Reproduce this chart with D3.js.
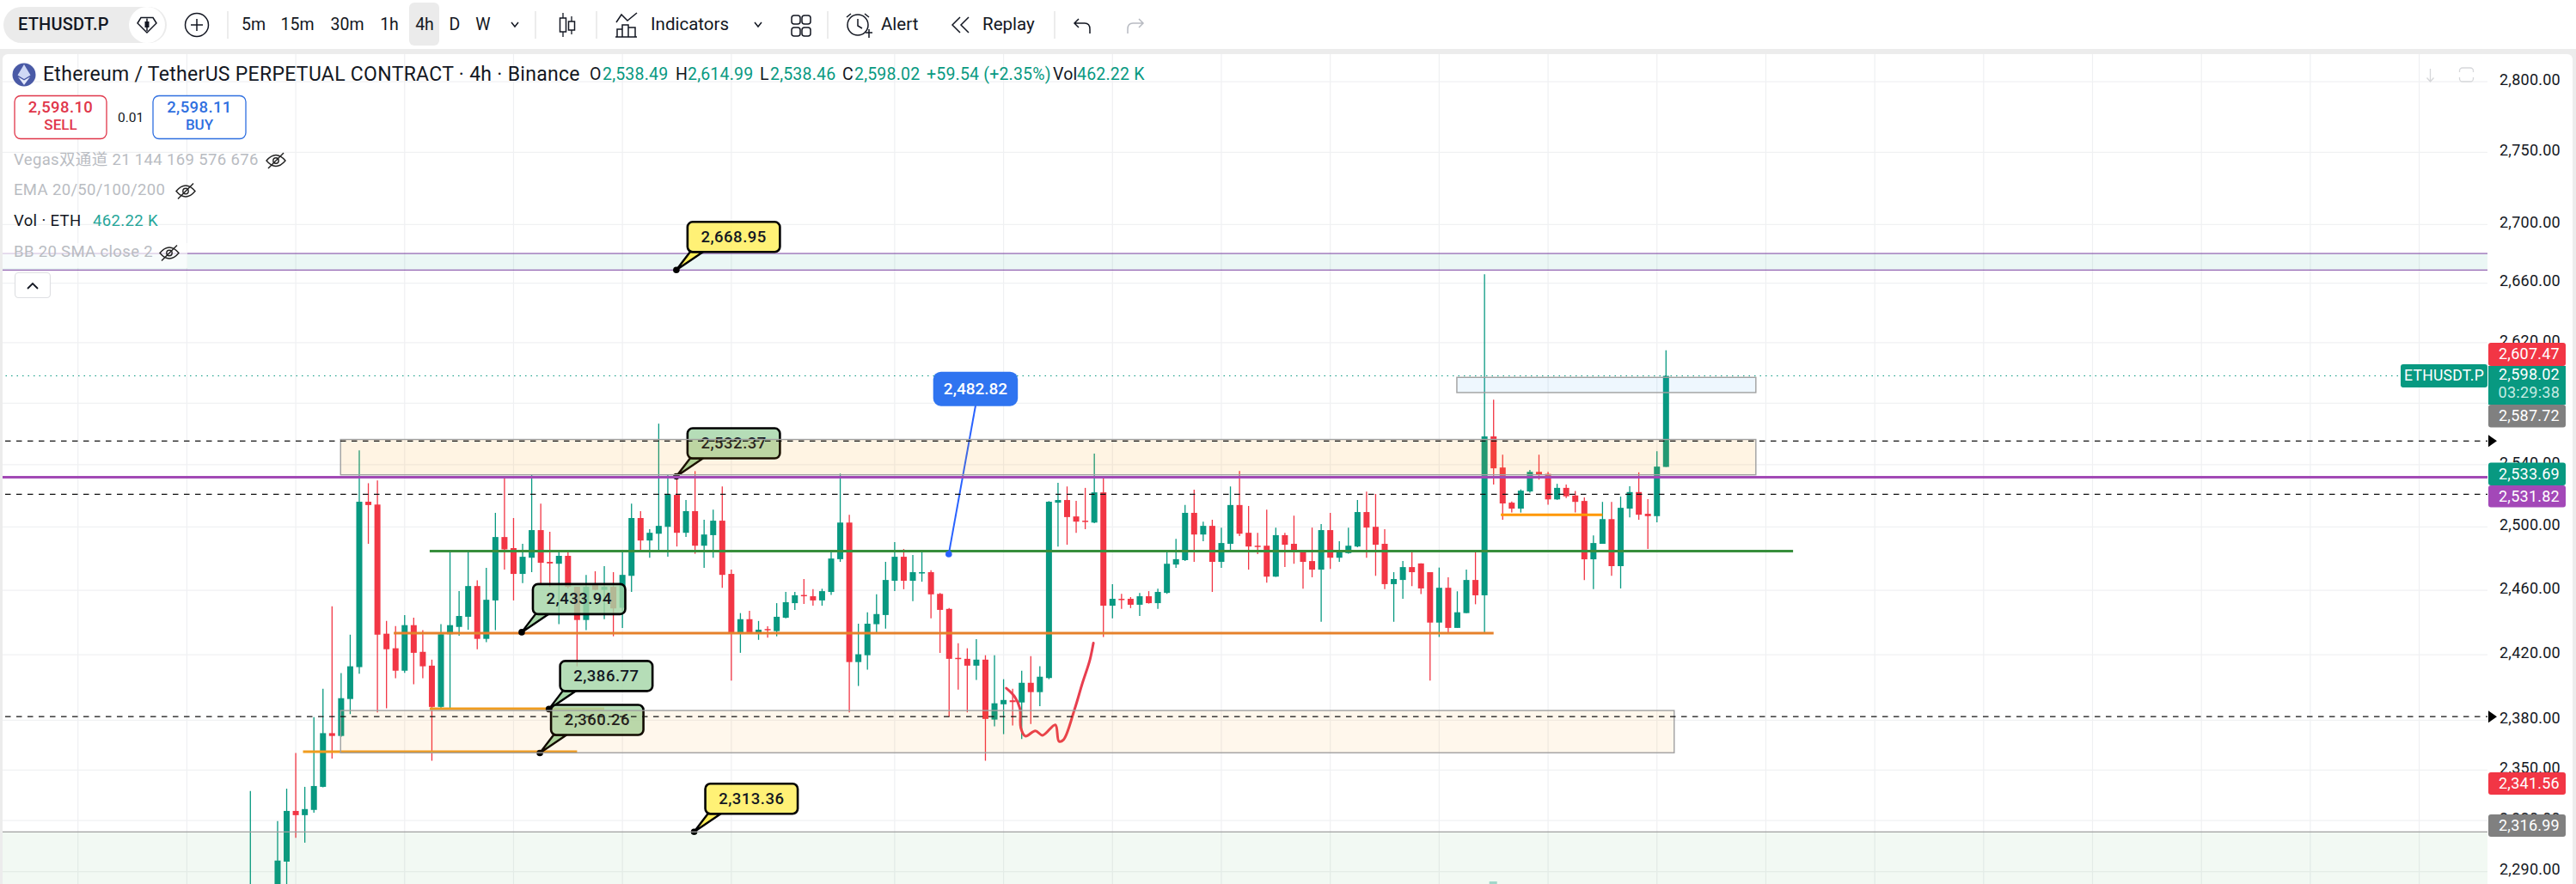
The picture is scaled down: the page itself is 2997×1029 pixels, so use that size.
<!DOCTYPE html>
<html><head><meta charset="utf-8">
<script src="https://cdn.jsdelivr.net/npm/d3@7"></script>
<style>
html,body{margin:0;padding:0;background:#ececec;overflow:hidden}
svg{display:block}
text{font-family:Roboto,"Noto Sans CJK SC",sans-serif}
</style></head><body><div id="c"></div>
<script>
// ---------- data (price values) ----------
const opens=[2268,2276,2270,2278,2295.9,2325.7,2323.2,2326.3,2340,2372.2,2370.5,2392.9,2412.4,2516.1,2514.3,2433,2424,2410.2,2438.3,2421.8,2413.3,2388.1,2432.7,2437.2,2443.5,2462.7,2429.8,2453.7,2493.6,2486.6,2470.3,2480.5,2498,2477.9,2476.7,2481.7,2462.2,2441.5,2464.1,2460.3,2462.2,2449.1,2469.1,2505.7,2491.4,2495.7,2500.1,2520.5,2496.3,2510.1,2488.1,2494.8,2504,2470.3,2433.7,2442,2433.7,2435.9,2434.6,2442.9,2452,2457.1,2456.3,2453.7,2459,2479.6,2502.8,2415.5,2419.7,2438.9,2444.6,2466,2481.1,2466,2470.9,2471.4,2457.8,2448.4,2418.1,2417.5,2413.3,2417,2380.4,2389.7,2392.1,2390.8,2402.8,2397.1,2405.7,2515.5,2517.2,2506.7,2504,2502.8,2522.1,2450.4,2454.7,2454.7,2451,2456.3,2452,2458.4,2476.2,2479,2509,2495.2,2500.7,2477.9,2489.3,2514,2496.3,2488.1,2488.1,2468.6,2494.8,2489.3,2484.3,2478.4,2473,2498,2480.5,2483.4,2487.6,2509.5,2500.1,2489.3,2463.9,2466.5,2474.6,2476.9,2471.4,2439.9,2461.6,2436.6,2445.8,2466.5,2456.9,2558.3,2538.1,2515.5,2511.7,2522.7,2535.3,2534,2517.6,2525,2520.1,2516.6,2479.5,2489.3,2505,2475.2,2511.7,2522.3,2508.4,2506.9,2538.49];
const highs=[2337.5,2280,2280,2319.7,2338.9,2360.3,2340,2381.9,2399.1,2450,2408.7,2432.4,2549.2,2528,2529.8,2440.9,2437.8,2444.6,2442.9,2435.2,2417,2438.9,2484,2459.5,2484,2466.3,2474.1,2509,2531.3,2505.7,2489.3,2533.3,2514.9,2496.9,2484,2484,2462.2,2469.7,2472,2475.2,2471.4,2484,2514.9,2510.1,2498.6,2566.6,2533.3,2531.3,2517.2,2535.8,2504.6,2511.1,2525.9,2473,2445.8,2447.2,2440.9,2437.6,2452,2459,2459,2467.1,2460.7,2461,2484,2534.2,2507.8,2439.2,2446.3,2457.5,2477.9,2490.4,2486,2482.2,2484,2472.6,2458.4,2448.9,2427.1,2424,2429.6,2419.7,2419.7,2405,2399.1,2410.2,2419.2,2412.9,2516.5,2528.2,2525.9,2516.7,2525,2547.1,2531.3,2463.9,2457.8,2455.8,2458.4,2459.5,2461,2484,2492.5,2514,2523.8,2503.4,2504.6,2499.6,2525.9,2535.8,2513.4,2496.3,2511.1,2499.6,2496.3,2507.2,2484.6,2499.6,2501.9,2509,2491,2499.6,2517.2,2522.6,2521.1,2498.6,2471.4,2478.4,2484,2476.9,2465.7,2474.3,2468.2,2459.4,2473,2484,2666.1,2582.3,2546.4,2516.3,2524,2536.6,2546.4,2535.3,2527.6,2527.1,2523,2518.9,2494.6,2516,2516,2519.4,2526,2535,2517.8,2548.7,2614.99];
const lows=[2262,2270,2265,2272,2278,2309.8,2307,2324.7,2339.7,2356.9,2370,2383.7,2408.3,2489.3,2384.8,2387.2,2405.6,2408.9,2401.9,2405.6,2355.6,2387.2,2387.2,2431.8,2435.5,2423.4,2427.7,2435.2,2473,2453.7,2464.5,2471.4,2464.1,2462.2,2438.9,2461.2,2412.9,2435.2,2460,2442,2431.4,2436.6,2459,2484.9,2480.5,2484.9,2481.1,2487.6,2493.6,2483,2474.1,2480.5,2461.6,2404.1,2421.2,2433.3,2429.2,2430.5,2431.4,2442.6,2447.8,2451.5,2450.4,2450.4,2457.1,2477.9,2384.8,2400.8,2410.8,2433.3,2436.1,2459.5,2460.7,2453.2,2465.4,2442.6,2421.2,2382.2,2398.6,2384.8,2404.5,2355.6,2376.3,2371.6,2376.8,2368.7,2377.7,2388.6,2405,2487.6,2488.7,2496.3,2498.6,2502.4,2430.9,2442.6,2448.4,2448.9,2444,2451.7,2448.4,2457.8,2474.1,2478.4,2477.9,2491,2459,2474.1,2485.4,2494.2,2473,2482.8,2464.8,2468.4,2474.6,2476.7,2461,2468.2,2440.4,2473.5,2477.9,2483,2487.2,2480.5,2469.1,2460.7,2440.4,2454.7,2462.7,2457.7,2404.1,2431,2433.9,2436.6,2445.8,2451.3,2433.3,2527.1,2504.6,2509.2,2509.2,2521.9,2530.3,2514.2,2517.3,2518.4,2509.2,2466.4,2460.7,2489.3,2469.1,2461.2,2506.1,2504.6,2486,2503,2538.46];
const closes=[2276,2279,2278,2296.5,2325.7,2323.2,2326.8,2340.5,2372.2,2370.5,2393.4,2412.9,2516.1,2514,2432.4,2423.4,2410.2,2438.3,2421.2,2412.9,2388.1,2432.7,2438.3,2444,2462.7,2429.8,2454.1,2493.6,2485.8,2470.3,2481.1,2498,2477.3,2476.9,2481.7,2462.2,2441.5,2462.2,2460.3,2462.2,2448.7,2469.7,2505.7,2491.4,2496.3,2500.7,2520.9,2496.3,2510.1,2488.1,2495.2,2504,2469.7,2433.3,2442,2433.7,2435.5,2435.3,2443.5,2452.6,2456.9,2456.5,2453.7,2459.5,2480,2502.8,2415.5,2420.3,2439.2,2445.2,2466.5,2481.1,2466,2471.4,2471.4,2457.5,2447.8,2417.5,2417.5,2413.3,2417,2380.8,2390.3,2392.3,2391,2402.8,2397.1,2406.5,2516.1,2517.2,2506.3,2503.4,2503.4,2522.1,2450.4,2454.7,2454.1,2451,2456.3,2452,2459,2476.7,2479.6,2509,2495.2,2500.7,2477.9,2489.8,2514,2495.7,2487.6,2487.6,2468.6,2494.8,2488.7,2484.3,2477.9,2473,2498,2480.5,2484.9,2488.1,2509.5,2499.6,2488.7,2463.9,2467.1,2474.6,2471.4,2461.2,2439.9,2461.6,2436.6,2446.3,2466.5,2456.9,2558.3,2537.6,2515,2511.7,2523.2,2535.3,2533.4,2517.6,2525,2519.6,2516,2479.5,2489.8,2505,2475.2,2512.2,2522.3,2507.8,2506.9,2538.7,2598.02];

const gridCandleIndex=[-19,-7,5,17,29,41,53,71,83,95,107,119,131,143,155,167,179,191,203,215,227,239];
const axisPrices=[2800,2750,2700,2660,2620,2580,2540,2500,2460,2420,2380,2350,2320,2290];
const dashedPrices=[2555.3,2520.9,2382.2];
const purplePrice=2531.82;
const lastPrice=2598.02;
const bandTop=[2680.2,2668.95];
const floorZone=2313.36;
const zoneUpper=[2556.3,2533.4];
const zoneLower=[2385.9,2360.4];
const zoneBlue=[2597,2587];
// [start index, end index, price]
const greenLine=[19.76,170,2484.7];
const orangeLines=[[15.8,137,2433.3,"#e6812b"],[19.76,39,2387,"#f09c1e"],[5.8,36,2361,"#f09c1e"],[137.8,149,2507.8,"#ff9800"]];
// callouts: text, candle index, price, fill
const callouts=[["2,668.95",46.94,2668.95,"#ffee58"],["2,532.37",46.94,2532.37,"#a5d6a7"],["2,433.94",29.9,2433.94,"#a5d6a7"],["2,386.77",32.9,2386.77,"#a5d6a7"],["2,360.26",31.9,2360.26,"#a5d6a7"],["2,313.36",48.9,2313.36,"#ffee58"]];
const squiggleIdx=[83.3,84.2,84.8,84.9,85.4,86.5,87.3,88.7,89.1,89.6,90.8,91.7,92.5,92.9];
const squigglePrice=[2399.5,2394.5,2387.2,2375.4,2370.4,2373.6,2370.9,2377.2,2367.3,2368.2,2386.2,2402.8,2416.6,2427.2];
const priceTags=[["2,607.47","#f23645",399,27],["2,587.72","#808080",471,26.5],["2,533.69","#089981",538.5,26.5],["2,531.82","#a348b8",565,25.5],["2,341.56","#f23645",899,26],["2,316.99","#808080",948,26]];
const timeframes=[["5m",295],["15m",346],["30m",404],["1h",453],["4h",494],["D",529],["W",562]];
const ohlc=[["O",686,"#131722"],["2,538.49",701,"#089981"],["H",786,"#131722"],["2,614.99",800,"#089981"],["L",884,"#131722"],["2,538.46",896,"#089981"],["C",980,"#131722"],["2,598.02",994,"#089981"],["+59.54 (+2.35%)",1078,"#089981"],["Vol",1225,"#131722"],["462.22 K",1253,"#089981"]];

// ---------- layout ----------
const W=2997,H=1029,plotR=2894,plotT=63;
const green="#089981",red="#f23645",ink="#131722";
const svg=d3.select("#c").append("svg").attr("width",W).attr("height",H).attr("viewBox",[0,0,W,H]);
const x=d3.scaleLinear().domain([0,156]).range([291.3,1938.3]);
const y=d3.scaleLog().domain([2500,2290]).range([613.4,1014.7]);

svg.append("rect").attr("width",W).attr("height",57).attr("fill","#fff");
svg.append("rect").attr("x",3).attr("y",plotT).attr("width",2990).attr("height",H).attr("rx",6).attr("fill","#fff");
svg.append("defs").append("clipPath").attr("id","plot").append("rect").attr("x",3).attr("y",plotT).attr("width",plotR-3).attr("height",H-plotT);
const plot=svg.append("g").attr("clip-path","url(#plot)");

// grid
const gridG=plot.append("g");
gridG.selectAll("line.v").data(gridCandleIndex).join("line").attr("class","v").attr("x1",d=>x(d)).attr("x2",d=>x(d)).attr("y1",plotT).attr("y2",H).attr("stroke","#eff0f2").attr("stroke-width",1.2);
gridG.selectAll("line.h").data(axisPrices).join("line").attr("class","h").attr("x1",0).attr("x2",plotR).attr("y1",d=>y(d)).attr("y2",d=>y(d)).attr("stroke","#f0f1f3").attr("stroke-width",1.2);

// teal band near the top
plot.append("rect").attr("x",0).attr("width",plotR).attr("y",y(bandTop[0])).attr("height",y(bandTop[1])-y(bandTop[0])).attr("fill","#22ab94").attr("fill-opacity",.09);
bandTop.forEach(p=>plot.append("line").attr("x1",0).attr("x2",plotR).attr("y1",y(p)).attr("y2",y(p)).attr("stroke","#7a3ea0").attr("stroke-width",1));

// last price dotted
plot.append("line").attr("x1",0).attr("x2",2793).attr("y1",y(lastPrice)).attr("y2",y(lastPrice)).attr("stroke",green).attr("stroke-width",1.2).attr("stroke-dasharray","1.5 5");

// single volume bar peeking at the bottom
plot.append("rect").attr("x",x(137)-5).attr("width",9).attr("y",1026).attr("height",4).attr("fill",green).attr("opacity",.35);

// candles
const candles=plot.append("g").selectAll("g").data(d3.range(opens.length)).join("g");
candles.append("line").attr("x1",i=>x(i)).attr("x2",i=>x(i)).attr("y1",i=>y(highs[i])).attr("y2",i=>y(lows[i])).attr("stroke",i=>closes[i]>=opens[i]?green:red).attr("stroke-width",1.3);
candles.append("rect").attr("x",i=>x(i)-3.5).attr("width",7).attr("y",i=>y(Math.max(opens[i],closes[i]))).attr("height",i=>Math.max(1.5,Math.abs(y(opens[i])-y(closes[i])))).attr("fill",i=>closes[i]>=opens[i]?green:red);

// horizontal drawn lines
orangeLines.forEach(([a,b,p,c])=>plot.append("line").attr("x1",x(a)).attr("x2",x(b)).attr("y1",y(p)).attr("y2",y(p)).attr("stroke",c).attr("stroke-width",3));
plot.append("line").attr("x1",x(greenLine[0])).attr("x2",x(greenLine[1])).attr("y1",y(greenLine[2])).attr("y2",y(greenLine[2])).attr("stroke","#388e3c").attr("stroke-width",3);

// red hand-drawn stroke
plot.append("path").datum(d3.range(squiggleIdx.length)).attr("d",d3.line().x(i=>x(squiggleIdx[i])).y(i=>y(squigglePrice[i])).curve(d3.curveCatmullRom.alpha(.5))).attr("fill","none").attr("stroke","#e83e4f").attr("stroke-width",3).attr("stroke-linecap","round");

// callouts
const bw=107.5,bh=35,dx=13,dy=-56;
function callout(t,ix,p,fill){
  const g=plot.append("g"),X=x(ix),Y=y(p),L=X+dx,T=Y+dy;
  g.append("path").attr("d",`M${X},${Y}L${L+3},${T+bh}L${L+18},${T+bh}Z`).attr("fill",fill).attr("stroke","#000").attr("stroke-width",2.4).attr("stroke-linejoin","round");
  g.append("rect").attr("x",L).attr("y",T).attr("width",bw).attr("height",bh).attr("rx",6).attr("fill",fill).attr("fill-opacity",.82).attr("stroke","#000").attr("stroke-width",2.6);
  g.append("circle").attr("cx",X).attr("cy",Y).attr("r",3.8).attr("fill","#000");
  g.append("text").attr("x",L+bw/2).attr("y",T+bh/2+1).attr("text-anchor","middle").attr("dominant-baseline","middle").attr("font-size",18.5).attr("font-weight",500).attr("letter-spacing",.5).attr("fill","#131722").text(t);
}
callouts.forEach(c=>callout(...c));

// blue callout
{
  const X=x(76.96),Y=y(2482.82);
  plot.append("line").attr("x1",X).attr("y1",Y).attr("x2",1135).attr("y2",472).attr("stroke","#2962ff").attr("stroke-width",2);
  plot.append("circle").attr("cx",X).attr("cy",Y).attr("r",3.8).attr("fill","#2962ff");
  plot.append("rect").attr("x",1085.7).attr("y",432.7).attr("width",98.5).attr("height",40).attr("rx",9).attr("fill","#2f74f0");
  plot.append("text").attr("x",1135).attr("y",453.5).attr("text-anchor","middle").attr("dominant-baseline","middle").attr("font-size",19).attr("font-weight",500).attr("fill","#fff").text("2,482.82");
}

// zones, drawn above candles and callouts
function zone(a,b,pr,fill,op){
  plot.append("rect").attr("x",x(a)).attr("width",x(b)-x(a)).attr("y",y(pr[0])).attr("height",y(pr[1])-y(pr[0])).attr("fill",fill).attr("fill-opacity",op).attr("stroke","#a0a0a0").attr("stroke-width",1.4);
}
zone(9.94,165.9,zoneUpper,"#ff9800",.11);
zone(9.94,156.9,zoneLower,"#ff9800",.075);
zone(132.95,165.9,zoneBlue,"#2196f3",.08);
plot.append("rect").attr("x",0).attr("width",plotR).attr("y",y(floorZone)).attr("height",H-y(floorZone)).attr("fill","#4caf50").attr("fill-opacity",.07);
plot.append("line").attr("x1",0).attr("x2",plotR).attr("y1",y(floorZone)).attr("y2",y(floorZone)).attr("stroke","#a0a0a0").attr("stroke-width",1.3);

// dashed + purple levels
dashedPrices.forEach(p=>plot.append("line").attr("x1",6).attr("x2",plotR).attr("y1",y(p)).attr("y2",y(p)).attr("stroke","#111").attr("stroke-width",1.2).attr("stroke-dasharray","6.5 6.5"));
plot.append("line").attr("x1",0).attr("x2",plotR).attr("y1",y(purplePrice)).attr("y2",y(purplePrice)).attr("stroke","#a24ab5").attr("stroke-width",3);

// price axis
const axisG=svg.append("g").attr("transform",`translate(${plotR},0)`).call(d3.axisRight(y).tickValues(axisPrices).tickFormat(d3.format(",.2f")).tickSize(0).tickPadding(14));
axisG.select(".domain").remove();
axisG.selectAll("text").attr("font-size",18).attr("font-family","Roboto").attr("fill",ink).attr("letter-spacing",.25).attr("dy","0.18em");

// black markers for dashed levels
svg.selectAll("path.tri").data(dashedPrices).join("path").attr("class","tri").attr("d",p=>`M2895,${y(p)-7}L2905,${y(p)}L2895,${y(p)+7}Z`).attr("fill","#000");

// price tags
function tag(t,c,top,h){
  svg.append("rect").attr("x",2895).attr("y",top).attr("width",90).attr("height",h).attr("rx",3).attr("fill",c);
  svg.append("text").attr("x",2978).attr("y",top+h/2+1).attr("text-anchor","end").attr("dominant-baseline","middle").attr("font-size",18).attr("letter-spacing",.25).attr("fill","#fff").text(t);
}
priceTags.forEach(d=>tag(...d));
svg.append("rect").attr("x",2895).attr("y",426).attr("width",90).attr("height",45).attr("fill",green);
svg.append("text").attr("x",2978).attr("y",437).attr("text-anchor","end").attr("dominant-baseline","middle").attr("font-size",18).attr("letter-spacing",.25).attr("fill","#fff").text("2,598.02");
svg.append("text").attr("x",2978).attr("y",458).attr("text-anchor","end").attr("dominant-baseline","middle").attr("font-size",18).attr("letter-spacing",.25).attr("fill","#c6ebe3").text("03:29:38");
svg.append("rect").attr("x",2793).attr("y",424).attr("width",101).attr("height",27).attr("rx",3).attr("fill",green);
svg.append("text").attr("x",2843.5).attr("y",438).attr("text-anchor","middle").attr("dominant-baseline","middle").attr("font-size",17.5).attr("letter-spacing",.3).attr("fill","#fff").text("ETHUSDT.P");

// top-right ghost icons
const ghost=svg.append("g").attr("fill","none").attr("stroke","#d6d7da").attr("stroke-width",1.3);
ghost.append("path").attr("d","M2827.5,80V95M2823.5,90.5L2827.5,95L2831.5,90.5");
ghost.append("rect").attr("x",2861.5).attr("y",79).attr("width",16).attr("height",16).attr("rx",3.5);
svg.append("rect").attr("x",2858).attr("y",84).attr("width",23).attr("height",6).attr("fill","#fff");

// legend
const T=(s,xx,yy,size,fill,extra={})=>{const e=svg.append("text").attr("x",xx).attr("y",yy).attr("font-size",size).attr("fill",fill).attr("dominant-baseline","middle").text(s);Object.entries(extra).forEach(([k,v])=>e.attr(k,v));return e;};
svg.append("rect").attr("x",3).attr("y",283).attr("width",215).attr("height",29).attr("fill","#fff").attr("fill-opacity",.65);
const eth=svg.append("g");
eth.append("circle").attr("cx",28).attr("cy",87).attr("r",13.5).attr("fill","#4a5aa6");
eth.append("path").attr("d","M28,75L35.5,87.5L28,92L20.5,87.5Z").attr("fill","#cfd8f5");
eth.append("path").attr("d","M28,93.5L35,89.5L28,99L21,89.5Z").attr("fill","#e4e9fb");
T("Ethereum / TetherUS PERPETUAL CONTRACT · 4h · Binance",50,88,23,ink,{"letter-spacing":.3});
ohlc.forEach(([s,xx,c])=>T(s,xx,88,19.5,c,{"letter-spacing":.2}));

function btn(x0,w,c,a,b){
  svg.append("rect").attr("x",x0).attr("y",111.5).attr("width",w).attr("height",50).attr("rx",7).attr("fill","#fff").attr("stroke",c).attr("stroke-width",1.3);
  T(a,x0+w/2,126.5,18.5,c,{"text-anchor":"middle","font-weight":500,"letter-spacing":.4});
  T(b,x0+w/2,147,17,c,{"text-anchor":"middle","font-weight":500});
}
btn(17,107,"#e0364a","2,598.10","SELL");
btn(178,108,"#2f6fe0","2,598.11","BUY");
T("0.01",137,138,15.5,ink);

function eye(cx,cy){
  const g=svg.append("g").attr("fill","none").attr("stroke","#222").attr("stroke-width",1.4);
  g.append("path").attr("d",`M${cx-11},${cy}Q${cx},${cy-13} ${cx+11},${cy}Q${cx},${cy+13} ${cx-11},${cy}Z`);
  g.append("path").attr("d",`M${cx+9},${cy-9}L${cx-9},${cy+9}`);
  g.append("circle").attr("cx",cx).attr("cy",cy).attr("r",3.2);
}
const grey="#b9bcc2";
T("Vegas双通道 21 144 169 576 676",16,187,18.5,grey,{"letter-spacing":.35});
eye(321,187);
T("EMA 20/50/100/200",16,222.5,18.5,grey,{"letter-spacing":.35});
eye(216,222.5);
T("Vol · ETH",16,258,18.5,ink,{"letter-spacing":.35});
T("462.22 K",108,258,18.5,"#26a69a",{"letter-spacing":.35});
T("BB 20 SMA close 2",16,294.5,18.5,grey,{"letter-spacing":.35});
eye(197,294.5);
svg.append("rect").attr("x",17.5).attr("y",317.5).attr("width",41).attr("height",29).attr("rx",4).attr("fill","#fff").attr("stroke","#dfe0e3").attr("stroke-width",1.2);
svg.append("path").attr("d","M32,336L38,330L44,336").attr("fill","none").attr("stroke",ink).attr("stroke-width",1.8);

// toolbar
svg.append("rect").attr("x",4).attr("y",8).attr("width",190).attr("height",42).attr("rx",21).attr("fill","#ebebeb");
svg.append("circle").attr("cx",171).attr("cy",29).attr("r",21).attr("fill","#fff");
T("ETHUSDT.P",21,30,20,ink,{"font-weight":500,"letter-spacing":.2});
const icon=svg.append("g").attr("fill","none").attr("stroke",ink).attr("stroke-width",1.5);
icon.append("path").attr("d","M171,38L160,27L164,20.5H178L182,27Z");
icon.append("path").attr("d","M171,21.5V36");
svg.append("rect").attr("x",168.5).attr("y",25).attr("width",5).attr("height",7).attr("fill",ink);
icon.append("circle").attr("cx",229).attr("cy",29).attr("r",13.5);
icon.append("path").attr("d","M222,29H236M229,22V36");
svg.append("rect").attr("x",476).attr("y",3).attr("width",35).attr("height",50).attr("rx",6).attr("fill","#ebebeb");
timeframes.forEach(([s,xx])=>T(s,xx,30,19.5,ink,{"text-anchor":"middle"}));
[265,623,694,963,1227].forEach(xx=>svg.append("line").attr("x1",xx).attr("x2",xx).attr("y1",13).attr("y2",45).attr("stroke","#e6e6e6").attr("stroke-width",1.5));
const chev=xx=>icon.append("path").attr("d",`M${xx-4},26L${xx},31L${xx+4},26`);
chev(599);chev(882);
// candle icon
icon.append("path").attr("d","M655,15V43M665,19V40").attr("stroke-width",1.3);
icon.append("rect").attr("x",651.5).attr("y",21).attr("width",7).attr("height",16).attr("fill","#fff");
icon.append("rect").attr("x",661.5).attr("y",25).attr("width",7).attr("height",10).attr("fill","#fff");
// indicators icon
icon.append("path").attr("d","M717,26L723,17L730,24L741,15");
icon.append("path").attr("d","M718,43V34H724V43M724,43V29H731V43M731,43V32H739V43M716,43H741");
T("Indicators",757,30,20.5,ink);
// layouts icon
[[923,18],[935,18],[923,32],[935,32]].forEach(([a,b])=>icon.append("rect").attr("x",a-2).attr("y",b).attr("width",10).attr("height",10).attr("rx",3));
// alert icon
icon.append("circle").attr("cx",998).attr("cy",29).attr("r",12);
icon.append("path").attr("d","M998,22V30L1003,33M990,16L985,20M1006,16L1011,20M1007,38H1015M1011,34V44");
T("Alert",1025,30,20.5,ink);
// replay icon
icon.append("path").attr("d","M1117,20L1108,29L1117,38M1127,20L1118,29L1127,38");
T("Replay",1143,30,20.5,ink);
// undo / redo
icon.append("path").attr("d","M1255,22L1250,27L1255,32M1250,27H1262Q1268,27 1268,34V39");
svg.append("path").attr("d","M1325,22L1330,27L1325,32M1330,27H1318Q1312,27 1312,34V39").attr("fill","none").attr("stroke","#b8bbc2").attr("stroke-width",1.5);
</script></body></html>
